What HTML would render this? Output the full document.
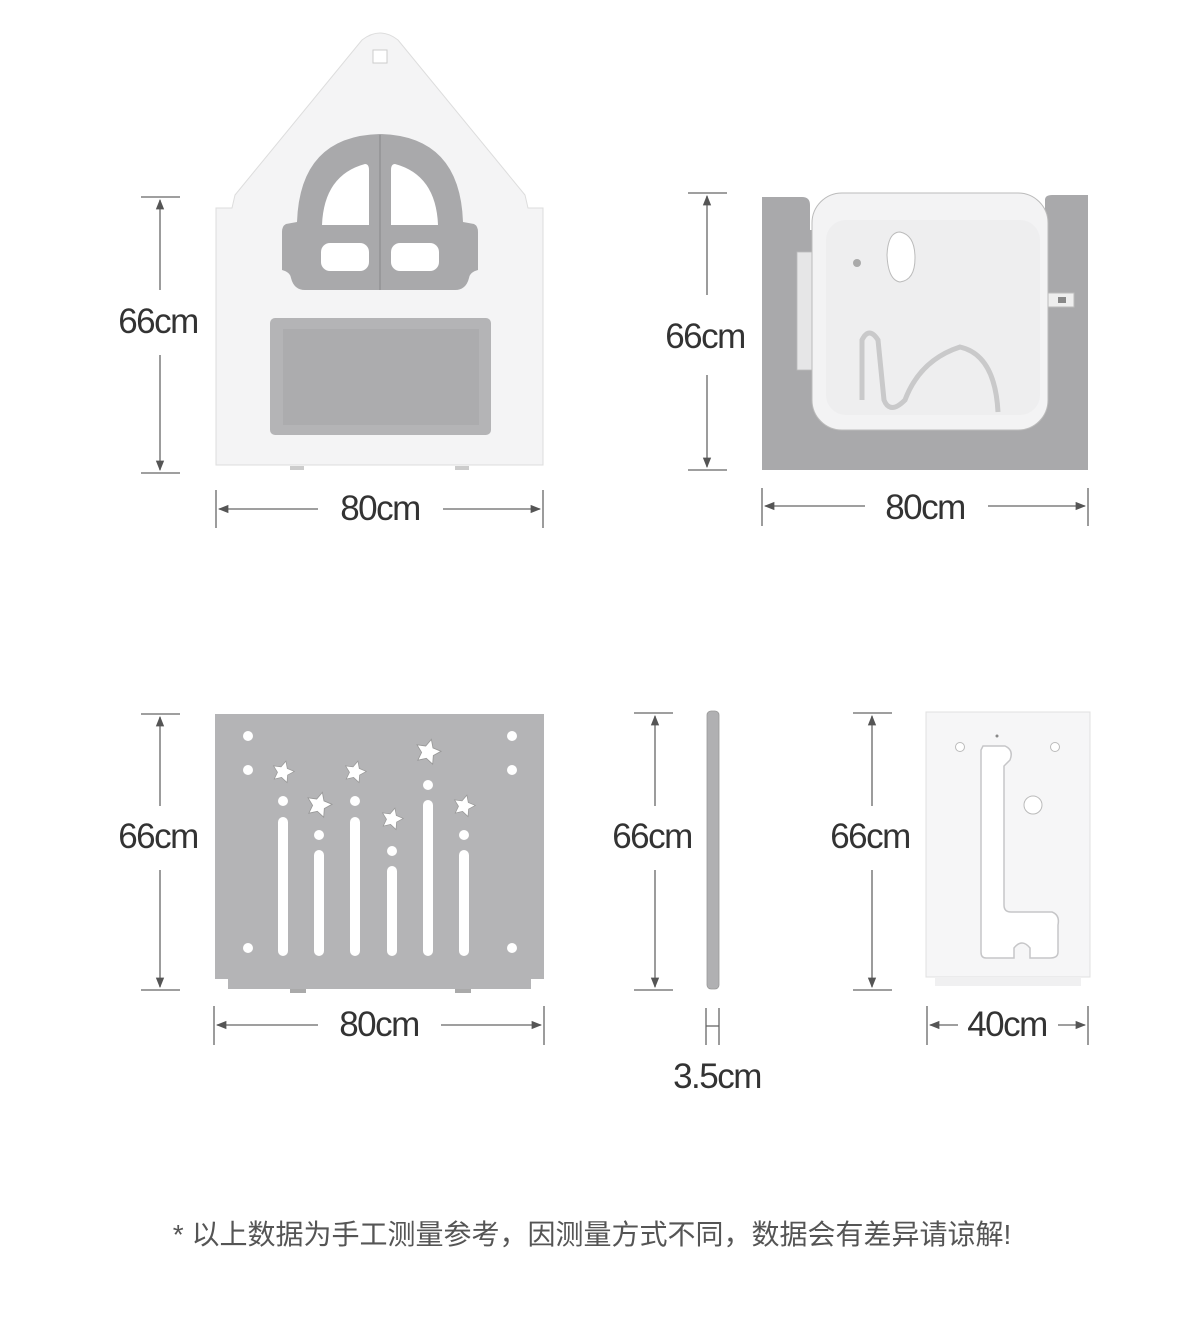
<!DOCTYPE html>
<html><head><meta charset="utf-8"><style>
html,body{margin:0;padding:0;background:#fff}
svg{display:block}
text{font-family:"Liberation Sans","Noto Sans CJK SC",sans-serif}
</style></head><body>
<svg width="1200" height="1327" viewBox="0 0 1200 1327" xmlns="http://www.w3.org/2000/svg">
<defs>
<marker id="ah" viewBox="0 0 10 10" refX="9" refY="5" markerWidth="8" markerHeight="8" orient="auto-start-reverse"><path d="M0,1 L10,5 L0,9 Z" fill="#555"/></marker>
<path id="star" d="M0,-9 L2.6,-3.6 8.6,-2.8 4.2,1.4 5.3,7.3 0,4.5 -5.3,7.3 -4.2,1.4 -8.6,-2.8 -2.6,-3.6Z"/>
</defs>
<g stroke="#666" stroke-width="1.3" fill="none">
<line x1="141" y1="197" x2="180" y2="197"/><line x1="141" y1="473" x2="180" y2="473"/>
<line x1="160" y1="200" x2="160" y2="290" marker-start="url(#ah)"/><line x1="160" y1="355" x2="160" y2="470" marker-end="url(#ah)"/>
<line x1="216" y1="490" x2="216" y2="528"/><line x1="543" y1="490" x2="543" y2="528"/>
<line x1="219" y1="509" x2="318" y2="509" marker-start="url(#ah)"/><line x1="443" y1="509" x2="540" y2="509" marker-end="url(#ah)"/>
<line x1="688" y1="193" x2="727" y2="193"/><line x1="688" y1="470" x2="727" y2="470"/>
<line x1="707" y1="196" x2="707" y2="295" marker-start="url(#ah)"/><line x1="707" y1="375" x2="707" y2="467" marker-end="url(#ah)"/>
<line x1="762" y1="488" x2="762" y2="526"/><line x1="1088" y1="488" x2="1088" y2="526"/>
<line x1="765" y1="506" x2="865" y2="506" marker-start="url(#ah)"/><line x1="988" y1="506" x2="1085" y2="506" marker-end="url(#ah)"/>
<line x1="141" y1="714" x2="180" y2="714"/><line x1="141" y1="990" x2="180" y2="990"/>
<line x1="160" y1="717" x2="160" y2="806" marker-start="url(#ah)"/><line x1="160" y1="870" x2="160" y2="987" marker-end="url(#ah)"/>
<line x1="214" y1="1006" x2="214" y2="1045"/><line x1="544" y1="1006" x2="544" y2="1045"/>
<line x1="217" y1="1025" x2="318" y2="1025" marker-start="url(#ah)"/><line x1="441" y1="1025" x2="541" y2="1025" marker-end="url(#ah)"/>
<line x1="634" y1="713" x2="673" y2="713"/><line x1="634" y1="990" x2="673" y2="990"/>
<line x1="655" y1="716" x2="655" y2="806" marker-start="url(#ah)"/><line x1="655" y1="870" x2="655" y2="987" marker-end="url(#ah)"/>
<line x1="706" y1="1008" x2="706" y2="1045"/><line x1="719" y1="1008" x2="719" y2="1045"/><line x1="706" y1="1026" x2="719" y2="1026"/>
<line x1="853" y1="713" x2="892" y2="713"/><line x1="853" y1="990" x2="892" y2="990"/>
<line x1="872" y1="716" x2="872" y2="806" marker-start="url(#ah)"/><line x1="872" y1="870" x2="872" y2="987" marker-end="url(#ah)"/>
<line x1="927" y1="1006" x2="927" y2="1045"/><line x1="1088" y1="1006" x2="1088" y2="1045"/>
<line x1="930" y1="1025" x2="958" y2="1025" marker-start="url(#ah)"/><line x1="1058" y1="1025" x2="1085" y2="1025" marker-end="url(#ah)"/>
</g>
<g font-size="35" fill="#333" text-anchor="middle" letter-spacing="-1.5">
<text x="158" y="333">66cm</text><text x="380" y="520">80cm</text>
<text x="705" y="348">66cm</text><text x="925" y="519">80cm</text>
<text x="158" y="848">66cm</text><text x="379" y="1036">80cm</text>
<text x="652" y="848">66cm</text><text x="717" y="1088">3.5cm</text>
<text x="870" y="848">66cm</text><text x="1007" y="1036">40cm</text>
</g>
<text x="592" y="1244" font-size="28" fill="#555" text-anchor="middle">* 以上数据为手工测量参考，因测量方式不同，数据会有差异请谅解!</text>

<!-- Panel 1 house -->
<path d="M216,208 L232,208 L235,195 L362,40 Q380,26 398,40 L525,195 L528,208 L543,208 L543,465 L216,465 Z" fill="#f4f4f5" stroke="#ddd" stroke-width="1"/>
<rect x="373" y="50" width="14" height="13" fill="#fff" stroke="#ccc"/>
<path d="M297,222 Q300,136 380,134 Q460,136 463,222 L474,224 Q478,226 478,232 L478,270 Q470,272 469,278 Q466,290 455,290 L305,290 Q294,290 291,278 Q290,272 282,270 L282,232 Q282,226 286,224 Z" fill="#a9a9ab"/>
<line x1="380" y1="135" x2="380" y2="290" stroke="#888" stroke-width="1"/>
<path d="M322,225 Q324,175 365,164 Q369,164 369,170 L369,225 Z" fill="#fff"/>
<path d="M438,225 Q436,175 395,164 Q391,164 391,170 L391,225 Z" fill="#fff"/>
<rect x="321" y="243" width="48" height="28" rx="9" fill="#fff"/>
<rect x="391" y="243" width="48" height="28" rx="9" fill="#fff"/>
<rect x="270" y="318" width="221" height="117" rx="5" fill="#b4b4b6"/>
<rect x="283" y="329" width="196" height="96" fill="#acacae"/>
<rect x="290" y="466" width="14" height="4" fill="#ccc"/><rect x="455" y="466" width="14" height="4" fill="#ccc"/>

<!-- Panel 2 -->
<path d="M762,197 L802,197 Q810,197 810,205 L810,230 L1045,230 L1045,200 Q1045,195 1052,195 L1088,195 L1088,470 L762,470 Z" fill="#a9a9ab"/>
<rect x="797" y="252" width="20" height="118" fill="#e6e6e7" stroke="#bbb" stroke-width="0.8"/>
<rect x="812" y="193" width="236" height="237" rx="30" fill="#f3f3f4" stroke="#bbb"/>
<rect x="826" y="220" width="214" height="195" rx="20" fill="#eeeeef"/>
<path d="M900,232 Q915,235 915,258 Q915,280 900,282 Q888,280 887,255 Q888,232 900,232Z" fill="#fff" stroke="#bbb"/>
<circle cx="857" cy="263" r="4" fill="#aaa"/>
<path d="M862,400 L862,340 Q869,326 878,340 L884,400 Q890,415 905,400 Q920,360 960,347 Q995,355 998,412" fill="none" stroke="#c9c9ca" stroke-width="5"/>
<rect x="1048" y="293" width="26" height="14" fill="#eee" stroke="#bbb"/>
<rect x="1058" y="297" width="8" height="6" fill="#888"/>

<!-- Panel 3 -->
<rect x="215" y="714" width="329" height="265" fill="#b4b4b6"/>
<rect x="228" y="979" width="303" height="10" fill="#b4b4b6"/>
<rect x="290" y="989" width="16" height="4" fill="#aaa"/><rect x="455" y="989" width="16" height="4" fill="#aaa"/>
<g fill="#fff">
<circle cx="248" cy="736" r="5"/><circle cx="248" cy="770" r="5"/><circle cx="248" cy="948" r="5"/>
<circle cx="512" cy="736" r="5"/><circle cx="512" cy="770" r="5"/><circle cx="512" cy="948" r="5"/>
<rect x="278" y="817" width="10" height="139" rx="5"/><circle cx="283" cy="801" r="5"/>
<rect x="314" y="850" width="10" height="106" rx="5"/><circle cx="319" cy="835" r="5"/>
<rect x="350" y="817" width="10" height="139" rx="5"/><circle cx="355" cy="801" r="5"/>
<rect x="387" y="866" width="10" height="90" rx="5"/><circle cx="392" cy="851" r="5"/>
<rect x="423" y="800" width="10" height="156" rx="5"/><circle cx="428" cy="785" r="5"/>
<rect x="459" y="850" width="10" height="106" rx="5"/><circle cx="464" cy="835" r="5"/>
</g>
<g fill="#fff" stroke="#999" stroke-width="0.6">
<use href="#star" transform="translate(283,772) rotate(15) scale(1.25)"/>
<use href="#star" transform="translate(319,805) rotate(15) scale(1.45)"/>
<use href="#star" transform="translate(355,772) rotate(15) scale(1.25)"/>
<use href="#star" transform="translate(392,819) rotate(15) scale(1.25)"/>
<use href="#star" transform="translate(428,752) rotate(15) scale(1.45)"/>
<use href="#star" transform="translate(464,806) rotate(15) scale(1.25)"/>
</g>

<!-- Rod -->
<rect x="707" y="711" width="12" height="278" rx="4" fill="#b0b0b2" stroke="#999" stroke-width="0.8"/>

<!-- Panel 5 -->
<rect x="926" y="712" width="164" height="265" fill="#f6f6f7" stroke="#e0e0e0"/>
<rect x="935" y="977" width="146" height="9" fill="#f0f0f1"/>
<path d="M983,746 L1005,746 Q1014,750 1010,760 L1004,766 L1004,905 Q1004,912 1011,912 L1052,912 Q1060,915 1058,925 L1058,952 Q1058,958 1050,958 L1030,958 L1030,948 Q1022,938 1014,948 L1014,958 L986,958 Q981,958 981,952 L981,750 Z" fill="#fff" stroke="#c6c6c8" stroke-width="1.5"/>
<circle cx="1033" cy="805" r="9" fill="#fff" stroke="#bbb"/>
<circle cx="960" cy="747" r="4.5" fill="#fff" stroke="#bbb"/><circle cx="1055" cy="747" r="4.5" fill="#fff" stroke="#bbb"/>
<circle cx="997" cy="736" r="1.5" fill="#888"/>
</svg>
</body></html>
